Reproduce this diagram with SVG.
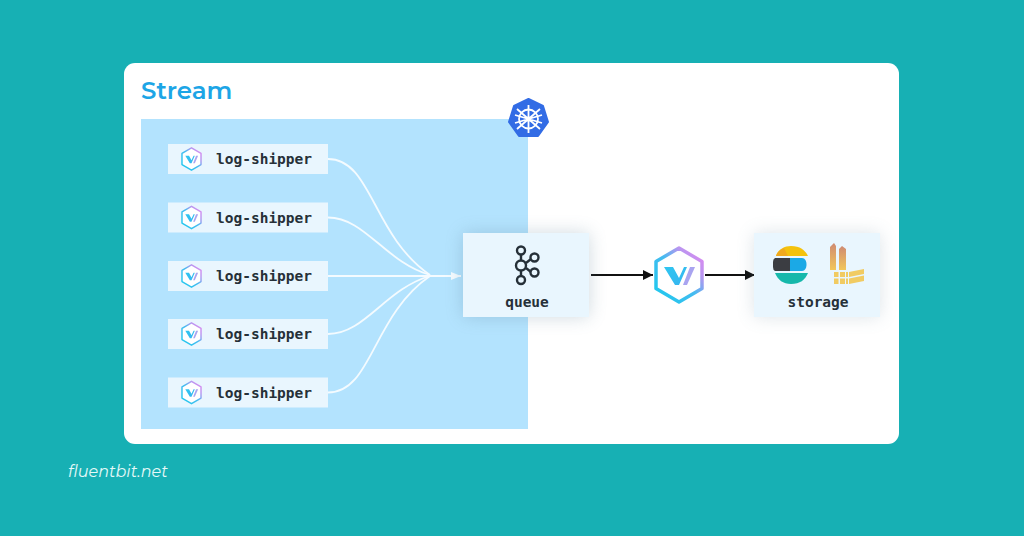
<svg xmlns="http://www.w3.org/2000/svg" xmlns:xlink="http://www.w3.org/1999/xlink" width="1024" height="536" viewBox="0 0 1024 536">
<style>
.mono{font-family:"DejaVu Sans Mono","Liberation Mono",monospace;font-weight:700;fill:#263038;font-size:14.500px}
.ship{fill:#e9f6fe}
.flow{fill:none;stroke:#f4fbff;stroke-width:1.8}
.link{fill:none;stroke:#111;stroke-width:2}
.ring{fill:none;stroke:#263038;stroke-width:2.400}
.spoke{stroke:#fff;stroke-width:1.800;fill:none}
</style>
<defs>
<linearGradient id="hexg" x1="0.100" y1="0.900" x2="0.900" y2="0.100">
<stop offset="0" stop-color="#22c7ee"/><stop offset="0.500" stop-color="#45bbf0"/><stop offset="0.800" stop-color="#b896f0"/><stop offset="1" stop-color="#d58cf0"/>
</linearGradient>
<linearGradient id="vg" x1="0" y1="0" x2="1" y2="1">
<stop offset="0" stop-color="#2fc6f0"/><stop offset="1" stop-color="#37b4f0"/>
</linearGradient>
<linearGradient id="bar" x1="0" y1="0" x2="0" y2="1">
<stop offset="0" stop-color="#cf8a72"/><stop offset="1" stop-color="#f2c65a"/>
</linearGradient>
<filter id="sh" x="-30%" y="-30%" width="160%" height="160%"><feGaussianBlur stdDeviation="9"/></filter>
<marker id="wh" markerWidth="11" markerHeight="8" refX="10" refY="4" orient="auto" markerUnits="userSpaceOnUse"><path d="M0 0L10 4L0 8Z" fill="#f4fbff"/></marker>
<marker id="bk" markerWidth="11" markerHeight="10" refX="10" refY="5" orient="auto" markerUnits="userSpaceOnUse"><path d="M0 0L10 5L0 10Z" fill="#111"/></marker>
<symbol id="logo" viewBox="0 0 50 58" overflow="visible">
<path d="M25 2L48 15.500V42.500L25 56L2 42.500V15.500Z" fill="#fff" stroke="url(#hexg)" stroke-width="3.500" stroke-linejoin="round"/>
<path d="M10 21H19L25 32L30 21H33L25 39H21Z" fill="url(#vg)"/>
<path d="M29 39L36 21H41L33 39Z" fill="#a9a4f0"/>
</symbol>
</defs>

<rect width="1024" height="536" fill="#17b0b4"/>
<rect id="panel" x="124" y="63" width="775" height="381" rx="11" fill="#fff"/>
<text x="141" y="99" font-family="Montserrat,Inter,'Noto Sans',sans-serif" font-size="24.500" font-weight="600" fill="#1da5e6">Stream</text>
<rect id="cluster" x="141" y="119" width="387" height="310" fill="#b3e3fe"/>

<g id="k8s">
<path d="M528.500 99L543 106L548 122L538 136H519L509 122L514 106Z" fill="#326ce5" stroke="#326ce5" stroke-width="2" stroke-linejoin="round"/>
<circle cx="528.500" cy="119" r="9.500" class="spoke"/>
<circle cx="528.500" cy="119" r="2.500" fill="#fff"/>
<path class="spoke" d="M528.500 105V133M515 115L542 123M517 129L540 109M540 129L517 109M542 115L515 123"/>
</g>

<g id="connectors">
<path class="flow" d="M328 159C372 159 372 235 430 275"/>
<path class="flow" d="M328 217.500C365 217.500 385 262 430 275"/>
<path class="flow" d="M328 276H430"/>
<path class="flow" d="M328 334C365 334 385 289 430 276"/>
<path class="flow" d="M328 392.500C372 392.500 372 316 430 276"/>
<path class="flow" d="M420 276H461" marker-end="url(#wh)"/>
<path class="link" d="M591 275H653" marker-end="url(#bk)"/>
<path class="link" d="M705 275H755" marker-end="url(#bk)"/>
</g>

<g id="shipper-1"><rect class="ship" x="168" y="144" width="160" height="30"/><use href="#logo" x="181" y="147" width="21" height="24"/><text class="mono" x="216" y="164">log-shipper</text></g>
<g id="shipper-2"><rect class="ship" x="168" y="202.500" width="160" height="30"/><use href="#logo" x="181" y="205.500" width="21" height="24"/><text class="mono" x="216" y="222.500">log-shipper</text></g>
<g id="shipper-3"><rect class="ship" x="168" y="261" width="160" height="30"/><use href="#logo" x="181" y="264" width="21" height="24"/><text class="mono" x="216" y="281">log-shipper</text></g>
<g id="shipper-4"><rect class="ship" x="168" y="319" width="160" height="30"/><use href="#logo" x="181" y="322" width="21" height="24"/><text class="mono" x="216" y="339">log-shipper</text></g>
<g id="shipper-5"><rect class="ship" x="168" y="377.500" width="160" height="30"/><use href="#logo" x="181" y="380.500" width="21" height="24"/><text class="mono" x="216" y="397.500">log-shipper</text></g>

<g id="queue">
<rect x="463" y="233" width="126" height="84" fill="#5a7a90" opacity="0.28" filter="url(#sh)"/>
<rect x="463" y="233" width="126" height="84" fill="#e9f6fe"/>
<path class="ring" d="M521 255V261M521 270V276M526 263L531 259M526 268L531 272"/>
<circle class="ring" cx="521" cy="250.500" r="4"/>
<circle class="ring" cx="521" cy="265.500" r="5"/>
<circle class="ring" cx="521" cy="280" r="4"/>
<circle class="ring" cx="534.500" cy="257.500" r="4"/>
<circle class="ring" cx="534.500" cy="272.500" r="4"/>
<text class="mono" x="527" y="307" text-anchor="middle">queue</text>
</g>

<g id="router"><use href="#logo" x="654" y="246" width="50" height="58"/></g>

<g id="storage">
<rect x="754" y="233" width="126" height="84" fill="#5a7a90" opacity="0.2" filter="url(#sh)"/>
<rect x="754" y="233" width="126" height="84" fill="#e9f6fe"/>
<path d="M776 256C778 249 785 246 791 246C800 246 805 250 808 256Z" fill="#f4c20d"/>
<path d="M776 256C777 252 780 250 784 248L788 256Z" fill="#f0a91e"/>
<path d="M773 262Q773 259 775 258H790V271H775Q773 270 773 267Z" fill="#3b3d42"/>
<path d="M790 258H802C808 258 808 271 802 271H790Z" fill="#1ba9e6"/>
<path d="M775 273H808C805 280 800 284 791 284C783 284 778 280 775 273Z" fill="#16b8ab"/>
<g fill="url(#bar)">
<path d="M830 247L834 243L836 246V270H830Z"/>
<path d="M839 249L842 246L846 249V270H839Z"/>
</g>
<g fill="#f1cb62">
<path d="M834 272H838.500V277H834ZM840 272H845V277H840ZM846 272V277H848V272ZM834 278.500H838.500V284H834ZM840 278.500H845V284H840ZM846 278.500H848V284H846Z"/>
<path d="M849 272L864 269V274L849 277Z"/>
<path d="M849 278.500L864 275.500V281L849 284Z"/>
</g>
<text class="mono" x="818" y="307" text-anchor="middle">storage</text>
</g>

<text x="68" y="477" font-family="Montserrat,'Open Sans',sans-serif" font-size="16" font-style="italic" fill="#e6f9f8">fluentbit.net</text>
</svg>
